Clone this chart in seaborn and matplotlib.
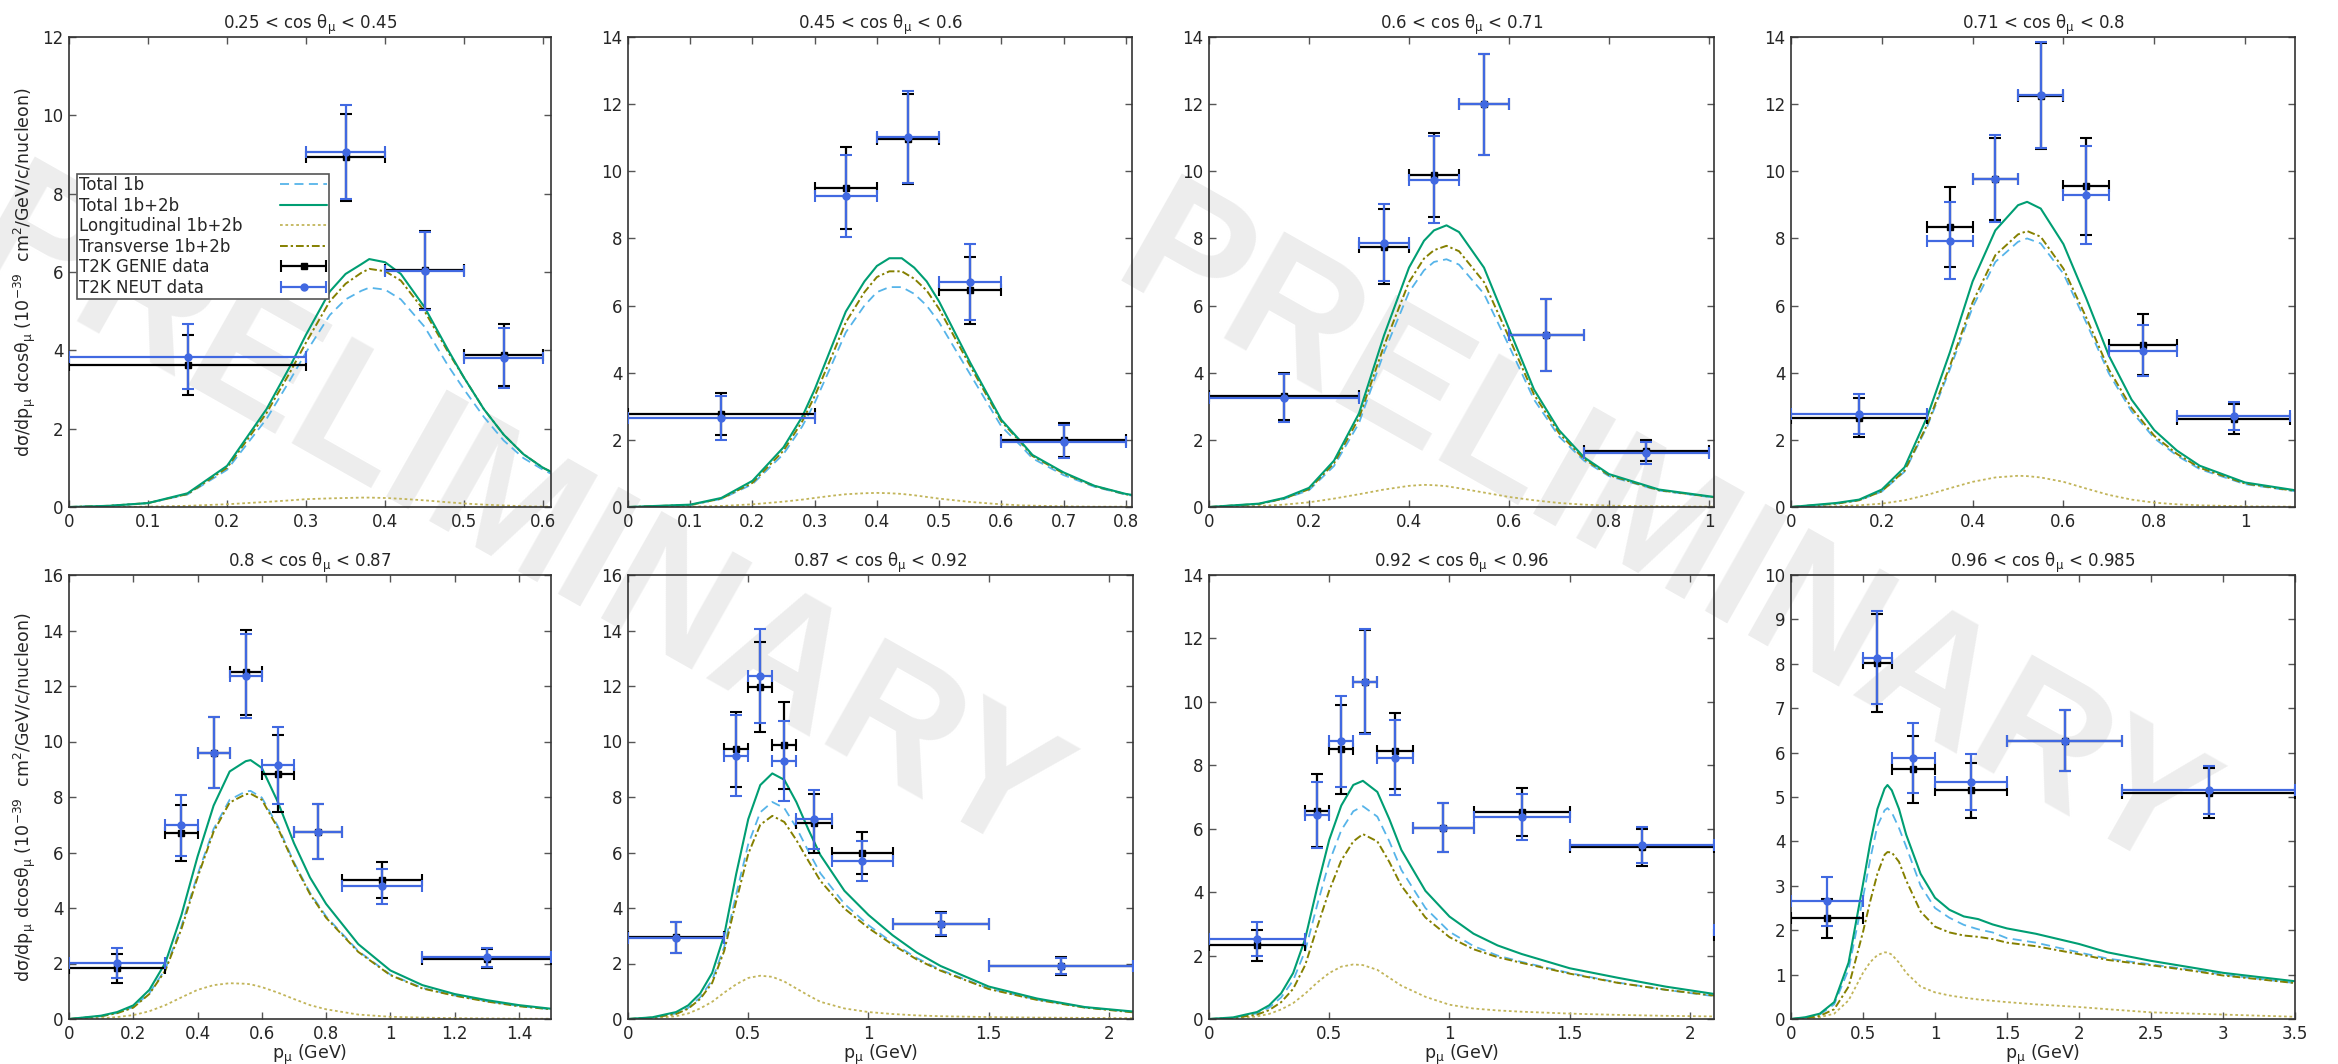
import numpy as np
import matplotlib
matplotlib.use("Agg")
import matplotlib.pyplot as plt
import seaborn as sns
from matplotlib.ticker import MultipleLocator, FormatStrFormatter
from matplotlib.lines import Line2D
from matplotlib.legend_handler import HandlerErrorbar
from matplotlib.container import ErrorbarContainer

# ---------------- data ----------------
COS_BINS = [("0.25", "0.45"), ("0.45", "0.6"), ("0.6", "0.71"), ("0.71", "0.8"),
            ("0.8", "0.87"), ("0.87", "0.92"), ("0.92", "0.96"), ("0.96", "0.985")]

# panel 1
P1_EDGES = [0, 0.3, 0.4, 0.5, 0.6]
P1_GENIE = [3.62, 8.93, 6.05, 3.88]
P1_GENIE_ERR = [0.77, 1.11, 1.0, 0.8]
P1_NEUT = [3.84, 9.07, 6.02, 3.80]
P1_NEUT_ERR = [0.83, 1.2, 0.99, 0.77]
P1_P = [0, 0.05, 0.1, 0.15, 0.2, 0.25, 0.28, 0.3, 0.33, 0.35, 0.37, 0.38, 0.4, 0.42, 0.45, 0.48, 0.5, 0.525, 0.55, 0.575, 0.6, 0.61]
P1_T12B = [0, 0.03, 0.1, 0.35, 1.05, 2.5, 3.6, 4.4, 5.5, 5.95, 6.2, 6.33, 6.25, 5.95, 5.1, 4.0, 3.3, 2.5, 1.85, 1.35, 1.0, 0.9]
P1_TR = [0, 0.03, 0.1, 0.33, 1.0, 2.4, 3.45, 4.2, 5.25, 5.7, 5.98, 6.08, 6.02, 5.78, 5.0, 3.95, 3.3, 2.5, 1.85, 1.35, 1.0, 0.9]
P1_T1B = [0, 0.03, 0.1, 0.32, 0.95, 2.25, 3.25, 3.95, 4.9, 5.3, 5.52, 5.6, 5.55, 5.3, 4.6, 3.6, 3.0, 2.3, 1.7, 1.25, 0.95, 0.85]
P1_LO = [0, 0, 0.01, 0.03, 0.07, 0.13, 0.17, 0.2, 0.22, 0.23, 0.24, 0.24, 0.23, 0.21, 0.17, 0.12, 0.09, 0.06, 0.04, 0.02, 0.01, 0.01]

# panel 2
P2_EDGES = [0, 0.3, 0.4, 0.5, 0.6, 0.8]
P2_GENIE = [2.77, 9.50, 10.96, 6.46, 1.99]
P2_GENIE_ERR = [0.63, 1.22, 1.35, 1.0, 0.5]
P2_NEUT = [2.66, 9.27, 11.02, 6.69, 1.94]
P2_NEUT_ERR = [0.65, 1.22, 1.36, 1.13, 0.49]
P2_P = [0, 0.1, 0.15, 0.2, 0.25, 0.28, 0.3, 0.33, 0.35, 0.38, 0.4, 0.42, 0.44, 0.46, 0.48, 0.5, 0.55, 0.6, 0.63, 0.65, 0.7, 0.75, 0.8, 0.81]
P2_T12B = [0, 0.07, 0.27, 0.78, 1.78, 2.69, 3.5, 4.9, 5.82, 6.72, 7.18, 7.41, 7.41, 7.13, 6.72, 6.12, 4.3, 2.6, 1.98, 1.55, 1.03, 0.63, 0.39, 0.36]
P2_TR = [0, 0.06, 0.25, 0.72, 1.68, 2.55, 3.3, 4.6, 5.5, 6.4, 6.85, 7.02, 7.02, 6.8, 6.45, 5.9, 4.2, 2.55, 1.95, 1.52, 1.0, 0.62, 0.38, 0.35]
P2_T1B = [0, 0.06, 0.24, 0.68, 1.58, 2.4, 3.1, 4.35, 5.2, 6.0, 6.4, 6.55, 6.55, 6.35, 6.0, 5.5, 3.95, 2.4, 1.85, 1.45, 0.95, 0.6, 0.37, 0.34]
P2_LO = [0, 0.01, 0.03, 0.08, 0.16, 0.22, 0.27, 0.34, 0.38, 0.41, 0.42, 0.41, 0.39, 0.35, 0.3, 0.25, 0.15, 0.08, 0.05, 0.04, 0.02, 0.01, 0.01, 0.01]

# panel 3
P3_EDGES = [0, 0.3, 0.4, 0.5, 0.6, 0.75, 1.0]
P3_GENIE = [3.30, 7.75, 9.88, 12.0, 5.13, 1.68]
P3_GENIE_ERR = [0.7, 1.12, 1.25, 1.5, 1.08, 0.32]
P3_NEUT = [3.25, 7.87, 9.75, 12.0, 5.13, 1.61]
P3_NEUT_ERR = [0.72, 1.15, 1.29, 1.5, 1.08, 0.32]
P3_P = [0, 0.1, 0.15, 0.2, 0.25, 0.3, 0.35, 0.4, 0.43, 0.45, 0.475, 0.5, 0.55, 0.6, 0.65, 0.7, 0.75, 0.8, 0.9, 1.0, 1.01]
P3_T12B = [0, 0.1, 0.27, 0.57, 1.38, 2.79, 5.11, 7.13, 7.93, 8.24, 8.39, 8.19, 7.13, 5.31, 3.5, 2.29, 1.48, 0.98, 0.52, 0.32, 0.30]
P3_TR = [0, 0.09, 0.25, 0.53, 1.3, 2.65, 4.8, 6.7, 7.4, 7.65, 7.78, 7.62, 6.7, 5.05, 3.35, 2.2, 1.43, 0.95, 0.5, 0.31, 0.29]
P3_T1B = [0, 0.09, 0.24, 0.5, 1.22, 2.5, 4.6, 6.4, 7.05, 7.3, 7.38, 7.22, 6.35, 4.8, 3.2, 2.1, 1.38, 0.92, 0.49, 0.3, 0.28]
P3_LO = [0, 0.03, 0.07, 0.14, 0.25, 0.38, 0.52, 0.63, 0.66, 0.65, 0.62, 0.56, 0.43, 0.3, 0.2, 0.12, 0.07, 0.04, 0.02, 0.01, 0.01]

# panel 4
P4_EDGES = [0, 0.3, 0.4, 0.5, 0.6, 0.7, 0.85, 1.1]
P4_GENIE = [2.66, 8.33, 9.78, 12.24, 9.55, 4.84, 2.61]
P4_GENIE_ERR = [0.58, 1.19, 1.22, 1.57, 1.44, 0.91, 0.45]
P4_NEUT = [2.78, 7.93, 9.78, 12.27, 9.29, 4.66, 2.71]
P4_NEUT_ERR = [0.6, 1.15, 1.29, 1.57, 1.46, 0.77, 0.43]
P4_P = [0, 0.1, 0.15, 0.2, 0.25, 0.3, 0.35, 0.4, 0.45, 0.5, 0.52, 0.55, 0.6, 0.65, 0.7, 0.75, 0.8, 0.85, 0.9, 1.0, 1.11]
P4_T12B = [0, 0.12, 0.22, 0.52, 1.18, 2.69, 4.61, 6.72, 8.24, 8.99, 9.09, 8.89, 7.83, 6.22, 4.51, 3.2, 2.29, 1.68, 1.23, 0.73, 0.5]
P4_TR = [0, 0.1, 0.2, 0.47, 1.08, 2.45, 4.2, 6.1, 7.5, 8.12, 8.22, 8.05, 7.1, 5.65, 4.1, 2.95, 2.12, 1.58, 1.17, 0.7, 0.48]
P4_T1B = [0, 0.1, 0.2, 0.46, 1.05, 2.4, 4.1, 5.95, 7.3, 7.9, 8.0, 7.85, 6.95, 5.5, 3.98, 2.85, 2.05, 1.53, 1.13, 0.68, 0.47]
P4_LO = [0, 0.02, 0.05, 0.1, 0.2, 0.36, 0.56, 0.75, 0.88, 0.93, 0.92, 0.88, 0.75, 0.55, 0.36, 0.22, 0.13, 0.08, 0.05, 0.02, 0.01]

# panel 5
P5_EDGES = [0, 0.3, 0.4, 0.5, 0.6, 0.7, 0.85, 1.1, 1.5]
P5_GENIE = [1.82, 6.71, 9.6, 12.49, 8.84, 6.74, 5.01, 2.18]
P5_GENIE_ERR = [0.52, 1.01, 1.28, 1.53, 1.38, 0.99, 0.64, 0.34]
P5_NEUT = [2.01, 6.98, 9.6, 12.37, 9.14, 6.74, 4.78, 2.22]
P5_NEUT_ERR = [0.54, 1.09, 1.28, 1.52, 1.4, 0.99, 0.62, 0.34]
P5_P = [0, 0.1, 0.15, 0.2, 0.25, 0.3, 0.35, 0.4, 0.45, 0.5, 0.55, 0.565, 0.6, 0.65, 0.7, 0.75, 0.8, 0.9, 1.0, 1.1, 1.2, 1.3, 1.4, 1.5]
P5_T12B = [0, 0.12, 0.25, 0.49, 1.05, 2.03, 3.75, 5.85, 7.69, 8.92, 9.29, 9.33, 9.05, 7.82, 6.34, 5.1, 4.15, 2.7, 1.75, 1.22, 0.9, 0.68, 0.5, 0.37]
P5_T1B = [0, 0.1, 0.22, 0.43, 0.93, 1.8, 3.35, 5.2, 6.85, 7.9, 8.2, 8.22, 7.98, 6.95, 5.65, 4.55, 3.7, 2.45, 1.6, 1.12, 0.85, 0.64, 0.47, 0.35]
P5_TR = [0, 0.1, 0.21, 0.41, 0.9, 1.75, 3.25, 5.1, 6.75, 7.8, 8.1, 8.12, 7.9, 6.88, 5.6, 4.5, 3.65, 2.42, 1.58, 1.1, 0.84, 0.63, 0.46, 0.35]
P5_LO = [0, 0.03, 0.07, 0.14, 0.28, 0.5, 0.78, 1.05, 1.22, 1.29, 1.27, 1.25, 1.15, 0.95, 0.72, 0.5, 0.35, 0.16, 0.08, 0.05, 0.03, 0.02, 0.01, 0.01]

# panel 6
P6_EDGES = [0, 0.4, 0.5, 0.6, 0.7, 0.85, 1.1, 1.5, 2.1]
P6_GENIE = [2.95, 9.72, 11.98, 9.87, 7.05, 5.99, 3.42, 1.91]
P6_GENIE_ERR = [0.56, 1.36, 1.62, 1.57, 1.06, 0.76, 0.43, 0.31]
P6_NEUT = [2.93, 9.48, 12.37, 9.29, 7.2, 5.70, 3.42, 1.91]
P6_NEUT_ERR = [0.55, 1.46, 1.69, 1.44, 1.07, 0.71, 0.41, 0.28]
P6_P = [0, 0.1, 0.2, 0.25, 0.3, 0.35, 0.4, 0.45, 0.5, 0.55, 0.6, 0.65, 0.7, 0.75, 0.8, 0.9, 1.0, 1.1, 1.2, 1.3, 1.5, 1.7, 1.9, 2.1]
P6_T12B = [0, 0.06, 0.25, 0.49, 0.92, 1.66, 3.02, 5.23, 7.2, 8.43, 8.85, 8.62, 7.82, 6.83, 5.91, 4.62, 3.75, 3.02, 2.4, 1.91, 1.17, 0.74, 0.43, 0.27]
P6_T1B = [0, 0.05, 0.2, 0.4, 0.78, 1.4, 2.6, 4.5, 6.3, 7.45, 7.82, 7.6, 6.9, 6.05, 5.25, 4.15, 3.38, 2.75, 2.2, 1.77, 1.1, 0.7, 0.42, 0.25]
P6_TR = [0, 0.05, 0.18, 0.37, 0.72, 1.3, 2.45, 4.25, 5.95, 7.0, 7.32, 7.1, 6.45, 5.7, 4.98, 3.98, 3.28, 2.68, 2.15, 1.74, 1.08, 0.69, 0.41, 0.24]
P6_LO = [0, 0.02, 0.1, 0.2, 0.38, 0.62, 0.95, 1.25, 1.48, 1.56, 1.52, 1.35, 1.1, 0.85, 0.62, 0.38, 0.25, 0.18, 0.13, 0.1, 0.07, 0.05, 0.04, 0.03]

# panel 7
P7_EDGES = [0, 0.4, 0.5, 0.6, 0.7, 0.85, 1.1, 1.5, 2.1, 3.0]
P7_GENIE = [2.32, 6.57, 8.51, 10.64, 8.45, 6.03, 6.52, 5.42, 2.66]
P7_GENIE_ERR = [0.49, 1.15, 1.4, 1.62, 1.21, 0.77, 0.75, 0.58, 0.4]
P7_NEUT = [2.53, 6.43, 8.76, 10.64, 8.24, 6.03, 6.38, 5.49, 2.8]
P7_NEUT_ERR = [0.53, 1.05, 1.43, 1.65, 1.19, 0.77, 0.73, 0.57, 0.4]
P7_P = [0, 0.1, 0.2, 0.25, 0.3, 0.35, 0.4, 0.45, 0.5, 0.55, 0.6, 0.64, 0.7, 0.75, 0.8, 0.9, 1.0, 1.1, 1.2, 1.3, 1.5, 1.7, 1.9, 2.1]
P7_T12B = [0, 0.05, 0.22, 0.43, 0.81, 1.45, 2.53, 4.15, 5.65, 6.73, 7.38, 7.51, 7.16, 6.3, 5.33, 4.04, 3.23, 2.69, 2.32, 2.05, 1.6, 1.3, 1.02, 0.79]
P7_T1B = [0, 0.04, 0.18, 0.36, 0.68, 1.22, 2.15, 3.6, 4.95, 5.95, 6.55, 6.71, 6.38, 5.6, 4.7, 3.5, 2.75, 2.3, 2.0, 1.8, 1.45, 1.15, 0.92, 0.72]
P7_TR = [0, 0.03, 0.14, 0.28, 0.53, 0.95, 1.7, 2.9, 4.05, 5.0, 5.6, 5.83, 5.6, 4.95, 4.2, 3.2, 2.58, 2.2, 1.95, 1.77, 1.43, 1.14, 0.92, 0.74]
P7_LO = [0, 0.01, 0.08, 0.16, 0.3, 0.5, 0.8, 1.15, 1.45, 1.65, 1.72, 1.7, 1.55, 1.3, 1.05, 0.7, 0.45, 0.33, 0.27, 0.23, 0.17, 0.13, 0.1, 0.08]

# panel 8
P8_EDGES = [0, 0.5, 0.7, 1.0, 1.5, 2.3, 3.5]
P8_GENIE = [2.27, 8.02, 5.62, 5.15, 6.27, 5.09]
P8_GENIE_ERR = [0.44, 1.1, 0.76, 0.62, 0.68, 0.56]
P8_NEUT = [2.65, 8.14, 5.88, 5.33, 6.27, 5.15]
P8_NEUT_ERR = [0.55, 1.05, 0.79, 0.63, 0.68, 0.54]
P8_P = [0, 0.1, 0.2, 0.3, 0.4, 0.5, 0.55, 0.6, 0.65, 0.67, 0.7, 0.75, 0.8, 0.9, 1.0, 1.1, 1.2, 1.3, 1.4, 1.5, 1.7, 2.0, 2.2, 2.5, 2.8, 3.0, 3.5]
P8_T12B = [0, 0.04, 0.12, 0.38, 1.27, 3.04, 3.96, 4.73, 5.19, 5.27, 5.15, 4.73, 4.15, 3.27, 2.73, 2.46, 2.31, 2.25, 2.13, 2.04, 1.92, 1.69, 1.5, 1.31, 1.15, 1.04, 0.85]
P8_T1B = [0, 0.03, 0.1, 0.33, 1.12, 2.73, 3.6, 4.35, 4.7, 4.75, 4.65, 4.3, 3.88, 3.0, 2.5, 2.28, 2.12, 2.02, 1.95, 1.82, 1.72, 1.5, 1.36, 1.23, 1.1, 1.0, 0.81]
P8_TR = [0, 0.02, 0.07, 0.22, 0.73, 1.96, 2.65, 3.27, 3.7, 3.76, 3.75, 3.54, 3.12, 2.42, 2.08, 1.95, 1.88, 1.85, 1.8, 1.72, 1.64, 1.46, 1.33, 1.21, 1.08, 0.98, 0.81]
P8_LO = [0, 0.01, 0.04, 0.12, 0.42, 1.04, 1.28, 1.44, 1.5, 1.5, 1.45, 1.27, 1.04, 0.73, 0.6, 0.53, 0.48, 0.44, 0.41, 0.38, 0.33, 0.27, 0.22, 0.15, 0.12, 0.1, 0.05]

XLIMS = [0.61, 0.81, 1.01, 1.11, 1.5, 2.1, 2.1, 3.5]
YLIMS = [12, 14, 14, 14, 16, 16, 14, 10]
XSTEPS = [0.1, 0.1, 0.2, 0.2, 0.2, 0.5, 0.5, 0.5]
YSTEPS = [2, 2, 2, 2, 2, 2, 2, 1]

LEGEND_LABELS = ["Total 1b", "Total 1b+2b", "Longitudinal 1b+2b", "Transverse 1b+2b",
                 "T2K GENIE data", "T2K NEUT data"]

PANELS = [
    (P1_EDGES, P1_GENIE, P1_GENIE_ERR, P1_NEUT, P1_NEUT_ERR, P1_P, P1_T1B, P1_T12B, P1_LO, P1_TR),
    (P2_EDGES, P2_GENIE, P2_GENIE_ERR, P2_NEUT, P2_NEUT_ERR, P2_P, P2_T1B, P2_T12B, P2_LO, P2_TR),
    (P3_EDGES, P3_GENIE, P3_GENIE_ERR, P3_NEUT, P3_NEUT_ERR, P3_P, P3_T1B, P3_T12B, P3_LO, P3_TR),
    (P4_EDGES, P4_GENIE, P4_GENIE_ERR, P4_NEUT, P4_NEUT_ERR, P4_P, P4_T1B, P4_T12B, P4_LO, P4_TR),
    (P5_EDGES, P5_GENIE, P5_GENIE_ERR, P5_NEUT, P5_NEUT_ERR, P5_P, P5_T1B, P5_T12B, P5_LO, P5_TR),
    (P6_EDGES, P6_GENIE, P6_GENIE_ERR, P6_NEUT, P6_NEUT_ERR, P6_P, P6_T1B, P6_T12B, P6_LO, P6_TR),
    (P7_EDGES, P7_GENIE, P7_GENIE_ERR, P7_NEUT, P7_NEUT_ERR, P7_P, P7_T1B, P7_T12B, P7_LO, P7_TR),
    (P8_EDGES, P8_GENIE, P8_GENIE_ERR, P8_NEUT, P8_NEUT_ERR, P8_P, P8_T1B, P8_T12B, P8_LO, P8_TR),
]

# ---------------- style ----------------
sns.set_style("ticks")
plt.rcParams["font.family"] = ["DejaVu Sans"]
plt.rcParams["mathtext.fontset"] = "dejavusans"

C_1B = "#56b4e9"
C_12B = "#009e73"
C_LO = "#c2b55a"
C_TR = "#858000"
C_NEUT = "#4169e1"
C_GENIE = "#000000"

LS_1B = (0, (5, 3))
LS_LO = (0, (1.5, 1.5))
LS_TR = (0, (4, 1.5, 1.2, 1.5))

W, H = 2338, 1064
fig = plt.figure(figsize=(W / 100, H / 100), dpi=100)
fig.patch.set_facecolor("white")

# axes rectangles in pixels (left, top, right, bottom)
RECTS = [(69, 37, 551, 507), (628, 37, 1132, 507), (1209, 37, 1714, 507), (1791, 37, 2295, 507),
         (69, 575, 551, 1019), (628, 575, 1133, 1019), (1209, 575, 1714, 1019), (1791, 575, 2295, 1019)]

# watermark
for cx, cy in [(514, 522), (1661, 539)]:
    fig.text(cx / W, 1 - cy / H, "PRELIMINARY", fontsize=128, family="Liberation Sans",
             weight="bold", color="#ededed", rotation=-29.5, ha="center", va="center",
             rotation_mode="anchor", zorder=-5)

YLABEL = r"$\mathregular{d\sigma/dp_{\mu}\ dcos\theta_{\mu}\ (10^{-39}\ \ cm^{2}/GeV/c/nucleon)}$"
XLABEL = r"$\mathregular{p_{\mu}\ (GeV)}$"

axes = []
for i, (rect, pdata) in enumerate(zip(RECTS, PANELS)):
    l, t, r, b = rect
    ax = fig.add_axes([l / W, 1 - b / H, (r - l) / W, (b - t) / H])
    ax.set_facecolor("none")
    axes.append(ax)
    edges, gv, ge, nv, ne, p, t1b, t12b, lo, tr = pdata
    edges = np.asarray(edges)
    centers = (edges[:-1] + edges[1:]) / 2
    half = (edges[1:] - edges[:-1]) / 2

    sns.lineplot(x=p, y=lo, ax=ax, color=C_LO, linestyle=LS_LO, lw=1.3,
                 estimator=None, errorbar=None, sort=False, label=LEGEND_LABELS[2])
    sns.lineplot(x=p, y=t1b, ax=ax, color=C_1B, linestyle=LS_1B, lw=1.3,
                 estimator=None, errorbar=None, sort=False, label=LEGEND_LABELS[0])
    sns.lineplot(x=p, y=tr, ax=ax, color=C_TR, linestyle=LS_TR, lw=1.4,
                 estimator=None, errorbar=None, sort=False, label=LEGEND_LABELS[3])
    sns.lineplot(x=p, y=t12b, ax=ax, color=C_12B, linestyle="-", lw=1.5,
                 estimator=None, errorbar=None, sort=False, label=LEGEND_LABELS[1])

    ax.errorbar(centers, gv, xerr=half, yerr=ge, fmt="s", color=C_GENIE, ms=4,
                elinewidth=1.6, capsize=4, capthick=1.5, zorder=4)
    ax.errorbar(centers, nv, xerr=half, yerr=ne, fmt="o", color=C_NEUT, ms=5,
                elinewidth=1.6, capsize=4, capthick=1.5, zorder=5)

    if ax.get_legend() is not None:
        ax.get_legend().remove()

    ax.set_xlim(0, XLIMS[i])
    ax.set_ylim(0, YLIMS[i])
    ax.xaxis.set_major_locator(MultipleLocator(XSTEPS[i]))
    ax.yaxis.set_major_locator(MultipleLocator(YSTEPS[i]))
    ax.xaxis.set_major_formatter(FormatStrFormatter("%g"))
    ax.yaxis.set_major_formatter(FormatStrFormatter("%g"))
    ax.tick_params(direction="in", top=True, right=True, length=5, width=1,
                   color="#555555", labelsize=12, pad=4)
    for s in ax.spines.values():
        s.set_color("#333333")
        s.set_linewidth(1.2)
    lo_s, hi_s = COS_BINS[i]
    ax.set_title(lo_s + r" < cos $\mathregular{\theta_{\mu}}$ < " + hi_s, fontsize=12, pad=6)
    ax.set_xlabel(XLABEL if i >= 4 else "", fontsize=12.5, labelpad=0)
    ax.set_ylabel(YLABEL if i in (0, 4) else "", fontsize=12.5, labelpad=3)

# legend on first panel
ax0 = axes[0]
h_lines = [Line2D([], [], color=C_1B, linestyle=LS_1B, lw=1.3),
           Line2D([], [], color=C_12B, linestyle="-", lw=1.5),
           Line2D([], [], color=C_LO, linestyle=LS_LO, lw=1.3),
           Line2D([], [], color=C_TR, linestyle=LS_TR, lw=1.4)]
h_g = ax0.errorbar([np.nan], [np.nan], xerr=[0.1], fmt="s", color=C_GENIE, ms=4,
                   elinewidth=1.6, capsize=4, capthick=1.5)
h_n = ax0.errorbar([np.nan], [np.nan], xerr=[0.1], fmt="o", color=C_NEUT, ms=5,
                   elinewidth=1.6, capsize=4, capthick=1.5)
leg = ax0.legend(h_lines + [h_g, h_n], LEGEND_LABELS, loc="upper left",
                 bbox_to_anchor=(0.0156, 0.7085), borderaxespad=0, markerfirst=False,
                 fontsize=12, handlelength=2.8, handletextpad=2.3, labelspacing=0.15,
                 borderpad=0.12, fancybox=False, framealpha=1, edgecolor="#555555",
                 numpoints=1, handler_map={ErrorbarContainer: HandlerErrorbar(xerr_size=1.35)})
leg.get_frame().set_linewidth(1.2)

# left-align legend texts (handles stay aligned on the right)
fig.canvas.draw()
rend = fig.canvas.get_renderer()
texts = leg.get_texts()
widths = [tx.get_window_extent(rend).width for tx in texts]
mw = max(widths)
for tx, w in zip(texts, widths):
    tx.set_x(-(mw - w))

fig.savefig("out.png", dpi=100, facecolor="white")
